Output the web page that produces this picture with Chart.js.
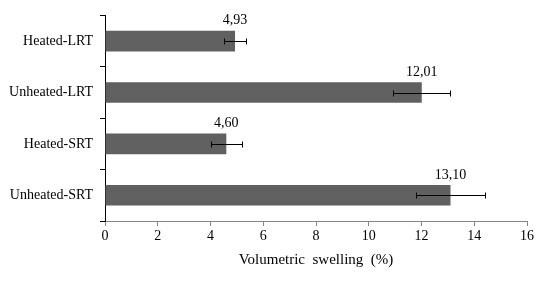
<!DOCTYPE html>
<html>
<head>
<meta charset="utf-8">
<script src="https://cdn.jsdelivr.net/npm/chart.js@4/dist/chart.umd.min.js"></script>
<style>
  html, body { margin: 0; padding: 0; background: #fff; }
  #box { width: 550px; height: 285px; }
</style>
</head>
<body>
<div id="box"><canvas id="swell-chart"></canvas></div>
<script>
const categories = ['Heated-LRT', 'Unheated-LRT', 'Heated-SRT', 'Unheated-SRT'];
const swelling = [4.93, 12.01, 4.60, 13.10];
const swellingErr = [0.42, 1.08, 0.59, 1.30];
const xTicks = [0, 2, 4, 6, 8, 10, 12, 14, 16];

const serif = 'Liberation Serif';

// error bars + value labels
const extras = {
  id: 'extras',
  afterDatasetsDraw(chart) {
    const ctx = chart.ctx;
    const x = chart.scales.x;
    const meta = chart.getDatasetMeta(0);
    ctx.save();
    ctx.strokeStyle = '#000';
    ctx.lineWidth = 1;
    meta.data.forEach((bar, i) => {
      const y = Math.round(bar.y) + 0.5;
      const lo = Math.round(x.getPixelForValue(swelling[i] - swellingErr[i])) + 0.5;
      const hi = Math.round(x.getPixelForValue(swelling[i] + swellingErr[i])) + 0.5;
      ctx.beginPath();
      ctx.moveTo(lo, y); ctx.lineTo(hi, y);
      ctx.moveTo(lo, y - 3); ctx.lineTo(lo, y + 3);
      ctx.moveTo(hi, y - 3); ctx.lineTo(hi, y + 3);
      ctx.stroke();

      ctx.fillStyle = '#000';
      ctx.font = '14px ' + serif;
      ctx.textAlign = 'center';
      ctx.textBaseline = 'bottom';
      ctx.fillText(swelling[i].toFixed(2).replace('.', ','), bar.x, bar.y - bar.height / 2 - 3);
    });
    ctx.restore();
  }
};

new Chart(document.getElementById('swell-chart'), {
  type: 'bar',
  data: {
    labels: categories,
    datasets: [{
      data: swelling,
      backgroundColor: '#606060',
      borderWidth: 0,
      barPercentage: 0.4,
      categoryPercentage: 1
    }]
  },
  options: {
    indexAxis: 'y',
    responsive: true,
    maintainAspectRatio: false,
    animation: false,
    layout: { padding: { top: 14, right: 23, left: 0, bottom: 16 } },
    plugins: {
      legend: { display: false },
      tooltip: { enabled: false }
    },
    scales: {
      x: {
        min: 0,
        max: 16,
        afterBuildTicks: (scale) => { scale.ticks = xTicks.map(v => ({ value: v })); },
        afterFit: (scale) => { scale.height = 48; },
        border: { color: '#868686', width: 1 },
        grid: { drawOnChartArea: false, drawTicks: true, tickLength: 5, color: '#868686' },
        ticks: { color: '#000', font: { family: serif, size: 14 }, padding: 2 },
        title: {
          display: true,
          text: 'Volumetric  swelling  (%)',
          color: '#000',
          font: { family: serif, size: 15 },
          padding: { top: 2, bottom: 0 }
        }
      },
      y: {
        afterFit: (scale) => { scale.width = 105; },
        border: { color: '#000', width: 1 },
        grid: { offset: true, drawOnChartArea: false, drawTicks: true, tickLength: 5, color: '#000' },
        ticks: { color: '#000', font: { family: serif, size: 14 }, padding: 7 }
      }
    }
  },
  plugins: [extras]
});
</script>
</body>
</html>
